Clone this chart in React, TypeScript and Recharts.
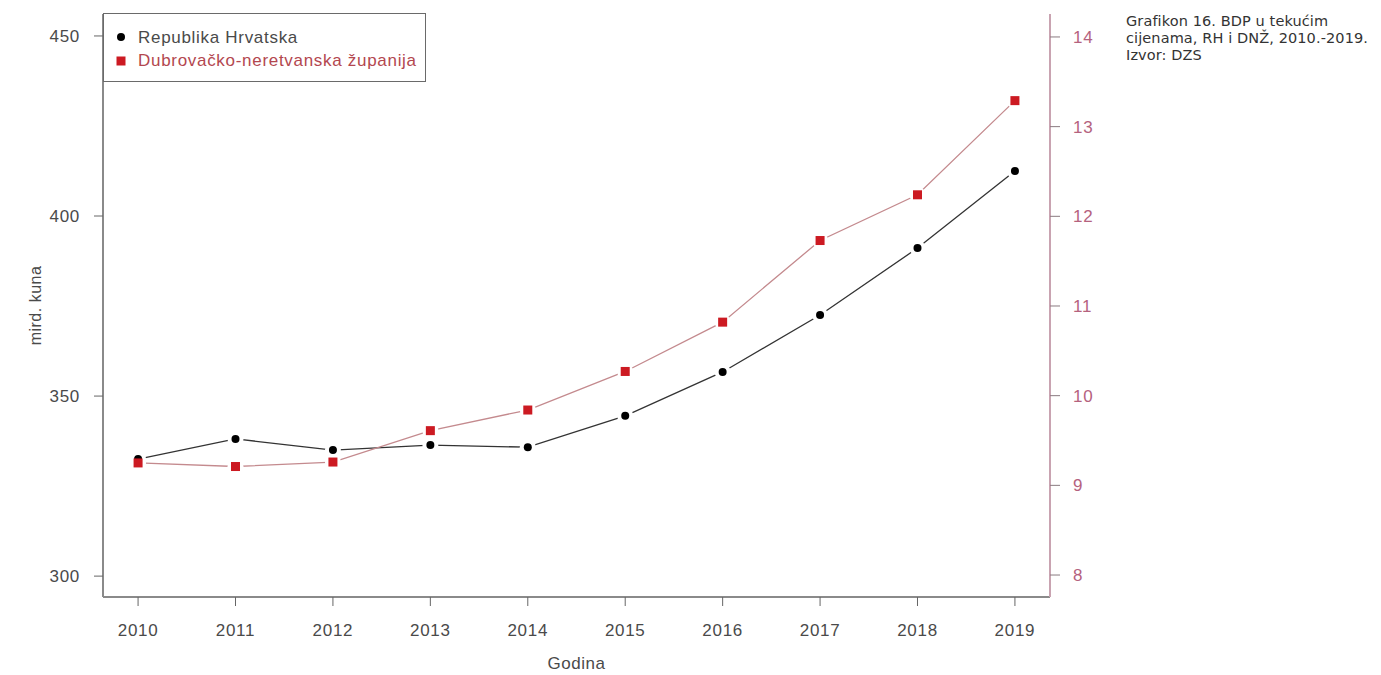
import { LineChart, Line, XAxis, YAxis } from 'recharts'

const years = [2010, 2011, 2012, 2013, 2014, 2015, 2016, 2017, 2018, 2019]
const hrvatska = [332.5, 338.1, 335.0, 336.4, 335.8, 344.5, 356.7, 372.5, 391.1, 412.5]
const dubrovnik = [9.25, 9.21, 9.26, 9.61, 9.84, 10.27, 10.82, 11.73, 12.24, 13.29]
const leftTicks = [300, 350, 400, 450]
const rightTicks = [8, 9, 10, 11, 12, 13, 14]
const seriesNames = ['Republika Hrvatska', 'Dubrovačko-neretvanska županija']
const captionLines = ['Grafikon 16. BDP u tekućim', 'cijenama, RH i DNŽ, 2010.-2019.', 'Izvor: DZS']

const data = years.map((y, i) => ({ year: y, rh: hrvatska[i], dnz: dubrovnik[i] }))

const FONT = '"Liberation Sans", Arial, sans-serif'
const AXIS_GRAY = '#8a8a8a'
const TEXT_GRAY = '#4a4a4a'
const PINK_AXIS = '#c9a3b1'
const PINK_TEXT = '#b5627e'
const RED = '#cc1a22'
const RED_LINE = '#c48a8e'

const halo = (props: any) => {
  const { cx, cy, index } = props
  if (cx == null || cy == null) return <g key={index} />
  return <circle key={index} cx={cx} cy={cy} r={8} fill="#fff" />
}

const circleDot = (props: any) => {
  const { cx, cy, index } = props
  if (cx == null || cy == null) return <g key={index} />
  return <circle key={index} cx={cx} cy={cy} r={4} fill="#000" />
}

const squareDot = (props: any) => {
  const { cx, cy, index } = props
  if (cx == null || cy == null) return <g key={index} />
  return <rect key={index} x={cx - 4.5} y={cy - 4.5} width={9} height={9} fill={RED} />
}

const YLabel = ({ viewBox }: any) => {
  const x = viewBox.x + 37
  const y = viewBox.y + viewBox.height / 2
  return (
    <text x={x} y={y} transform={`rotate(-90 ${x} ${y})`} textAnchor="middle" dominantBaseline="middle"
      fill={TEXT_GRAY} fontSize={16} fontFamily={FONT} letterSpacing={0.5}>
      mird. kuna
    </text>
  )
}

export default function App() {
  const tickStyle = { fill: TEXT_GRAY, fontSize: 17, fontFamily: FONT, letterSpacing: 0.7 }
  return (
    <div style={{ position: 'absolute', left: 0, top: 0, width: 1381, height: 675, background: '#fff', fontFamily: FONT }}>
      <LineChart width={1381} height={675} data={data} margin={{ top: 14, right: 251, bottom: 18, left: 0 }}>
        <XAxis xAxisId="b" dataKey="year" type="number" domain={[2009.64, 2019.36]} ticks={years} allowDataOverflow
          height={60} tickSize={9} tickMargin={18} tick={tickStyle}
          axisLine={{ stroke: AXIS_GRAY, strokeWidth: 2 }} tickLine={{ stroke: '#666' }}
          label={{ value: 'Godina', position: 'bottom', offset: 0, fill: TEXT_GRAY, fontSize: 17, fontFamily: FONT, letterSpacing: 0.5 }} />
        <XAxis xAxisId="t" orientation="top" dataKey="year" type="number" domain={[2009.64, 2019.36]} allowDataOverflow
          height={0} tick={false} tickLine={false} axisLine={{ stroke: AXIS_GRAY, strokeWidth: 2 }} />
        <YAxis yAxisId="l" orientation="left" width={103} domain={[294.2, 456.1]} ticks={leftTicks} allowDataOverflow
          tickSize={9} tickMargin={14} tick={tickStyle}
          axisLine={{ stroke: AXIS_GRAY, strokeWidth: 2 }} tickLine={{ stroke: '#666' }}
          label={<YLabel />} />
        <YAxis yAxisId="r" orientation="right" width={80} domain={[7.755, 14.256]} ticks={rightTicks} allowDataOverflow
          tickSize={10} tickMargin={13} tick={{ ...tickStyle, fill: PINK_TEXT }}
          axisLine={{ stroke: PINK_AXIS, strokeWidth: 2 }} tickLine={{ stroke: '#8a7a80' }} />
        <Line xAxisId="b" yAxisId="l" dataKey="rh" stroke="#333" strokeWidth={1.3} dot={halo} activeDot={false} isAnimationActive={false} />
        <Line xAxisId="b" yAxisId="r" dataKey="dnz" stroke={RED_LINE} strokeWidth={1.3} dot={halo} activeDot={false} isAnimationActive={false} />
        <Line xAxisId="b" yAxisId="l" dataKey="rh" stroke="none" dot={circleDot} activeDot={false} isAnimationActive={false} />
        <Line xAxisId="b" yAxisId="r" dataKey="dnz" stroke="none" dot={squareDot} activeDot={false} isAnimationActive={false} />
      </LineChart>

      <div style={{ position: 'absolute', left: 103, top: 13, width: 323, height: 69, border: '1.5px solid #6a6a6a', background: '#fff', boxSizing: 'border-box' }}>
        <svg width={323} height={69} style={{ position: 'absolute', left: 0, top: 0 }}>
          <circle cx={17} cy={23} r={4} fill="#000" />
          <rect x={12.5} y={42.5} width={9} height={9} fill={RED} />
          <text x={34} y={29} fill={TEXT_GRAY} fontSize={17} fontFamily={FONT} letterSpacing={0.7}>{seriesNames[0]}</text>
          <text x={34} y={52} fill="#b3474f" fontSize={17} fontFamily={FONT} letterSpacing={0.7}>{seriesNames[1]}</text>
        </svg>
      </div>

      <div style={{ position: 'absolute', left: 1126, top: 13, width: 255, fontFamily: '"DejaVu Sans", sans-serif', fontSize: 14.5, lineHeight: '17px', letterSpacing: 0.1, color: '#333', whiteSpace: 'nowrap' }}>
        {captionLines.map((l) => <div key={l}>{l}</div>)}
      </div>
    </div>
  )
}
